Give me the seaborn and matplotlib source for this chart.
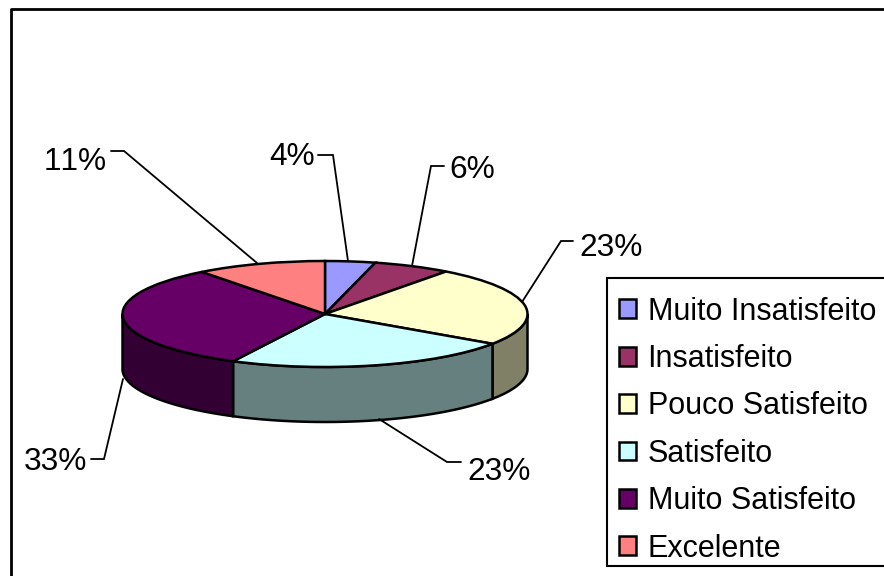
import numpy as np
import matplotlib
matplotlib.use('Agg')
import matplotlib.pyplot as plt
import seaborn as sns
from matplotlib.patches import Rectangle

categories = ['Muito Insatisfeito', 'Insatisfeito', 'Pouco Satisfeito',
              'Satisfeito', 'Muito Satisfeito', 'Excelente']
values = [4.0, 6.2, 24.3, 23.0, 32.1, 10.4]
percent_labels = ['4%', '6%', '23%', '23%', '33%', '11%']
colors = ['#9999FF', '#993366', '#FFFFCC', '#CCFFFF', '#660066', '#FF8080']

sns.set_theme(style='white')
plt.rcParams['font.family'] = ['Liberation Sans', 'DejaVu Sans']
plt.rcParams['text.kerning_factor'] = 6

W, H = 884, 576
CX, CY = 325, 314
RX, RY = 202.5, 53
DEPTH = 55 / RY


def px(x, y):
    # picture pixels to pie units
    return (x - CX) / RX, (CY - y) / RY


fig = plt.figure(figsize=(W / 100, H / 100), dpi=100)
ax = fig.add_axes([0, 0, 1, 1])

# top of the pie
wedges, _ = ax.pie(values, colors=colors, startangle=90, counterclock=False,
                   radius=1, frame=True,
                   wedgeprops={'edgecolor': 'black', 'linewidth': 1.8, 'zorder': 3})
ax.set_aspect('auto')
ax.set_xlim(px(0, 0)[0], px(W, 0)[0])
ax.set_ylim(px(0, H)[1], px(0, 0)[1])
ax.set_xticks([])
ax.set_yticks([])
for s in ax.spines.values():
    s.set_visible(False)

# side wall, only the front half of the ring shows
edges = np.concatenate([[0], np.cumsum(values)]) / np.sum(values) * 2 * np.pi
for i, c in enumerate(colors):
    a = max(edges[i], np.pi / 2)
    b = min(edges[i + 1], 3 * np.pi / 2)
    if b <= a:
        continue
    t = np.linspace(a, b, 80)
    xs = np.sin(t)
    ys = np.cos(t)
    shade = tuple(v * 0.5 for v in matplotlib.colors.to_rgb(c))
    ax.fill(np.r_[xs, xs[::-1]], np.r_[ys, ys[::-1] - DEPTH],
            facecolor=shade, edgecolor='black', linewidth=1.8, zorder=2)

# chart frame, only left and top fall inside the picture
ax.plot(*zip(px(11, H + 5), px(11, 8.5), px(W + 5, 8.5)), color='black',
        linewidth=2, zorder=1)

# label text position and leader line
label_pos = [(269, 157), (449, 170), (579, 248), (467, 472), (24, 462), (44, 162)]
leaders = [
    [(318, 155), (333, 155), (348, 261)],
    [(444, 166), (431, 166), (412, 266)],
    [(573, 241), (561, 241), (522, 302)],
    [(461, 462), (447, 462), (379, 419)],
    [(91, 459), (104, 459), (123, 379)],
    [(111, 151), (124, 151), (257, 263)],
]
for txt, pos, line in zip(percent_labels, label_pos, leaders):
    x, y = px(*pos)
    ax.text(x, y, txt, fontsize=22.8, color='black', ha='left', va='center')
    pts = np.array([px(*p) for p in line])
    ax.plot(pts[:, 0], pts[:, 1], color='black', linewidth=1.3, zorder=4,
            solid_joinstyle='miter')

# legend box runs past the right edge
bx0, by0 = px(607, 566)
bx1, by1 = px(W + 10, 278)
ax.add_patch(Rectangle((bx0, by0), bx1 - bx0, by1 - by0, facecolor='white',
                       edgecolor='black', linewidth=1.5, zorder=5))
lx, ly = px(618.5, 296.5)
leg = ax.legend(wedges, categories, loc='upper left', bbox_to_anchor=(lx, ly),
                bbox_transform=ax.transData, borderaxespad=0, fontsize=22,
                frameon=False, handlelength=0.57, handleheight=0.57,
                handletextpad=0.38, labelspacing=0.57, borderpad=0,
                labelcolor='black')
leg.set_zorder(6)

fig.savefig('out.png', dpi=100, facecolor='white')
